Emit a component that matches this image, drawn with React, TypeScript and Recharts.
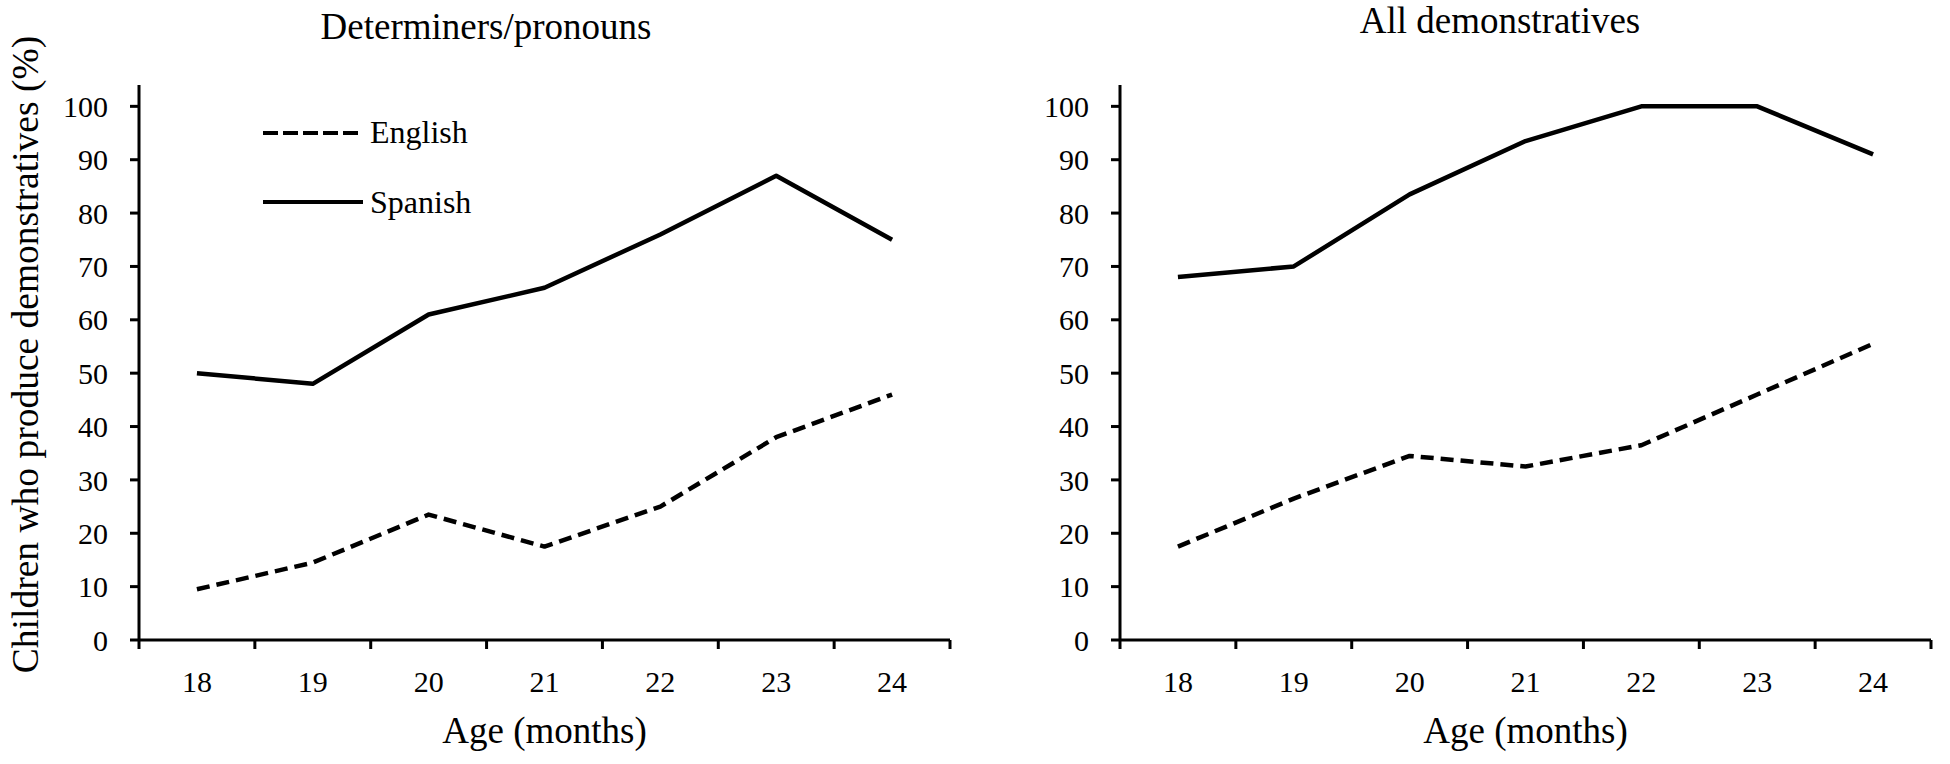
import { LineChart, Line, XAxis, YAxis, Legend } from "recharts";

const AGES = [18, 19, 20, 21, 22, 23, 24];
const EDGE_TICKS = [17.5, 18, 18.5, 19, 19.5, 20, 20.5, 21, 21.5, 22, 22.5, 23, 23.5, 24, 24.5];
const Y_TICKS = [0, 10, 20, 30, 40, 50, 60, 70, 80, 90, 100];

// Determiners/pronouns
const DET_ENGLISH = [9.5, 14.5, 23.5, 17.5, 25, 38, 46];
const DET_SPANISH = [50, 48, 61, 66, 76, 87, 75];

// All demonstratives
const ALL_ENGLISH = [17.5, 26.5, 34.5, 32.5, 36.5, 46, 55.5];
const ALL_SPANISH = [68, 70, 83.5, 93.5, 100, 100, 91];

const TITLE_LEFT = "Determiners/pronouns";
const TITLE_RIGHT = "All demonstratives";
const Y_TITLE = "Children who produce demonstratives (%)";
const X_TITLE = "Age (months)";

const FONT = '"Liberation Serif", "Times New Roman", serif';
const TICK_GAP = 52;

const toRows = (en: number[], es: number[]) =>
  AGES.map((age, i) => ({ age, English: en[i], Spanish: es[i] }));

const XTick = (props: any) => {
  const { x, y, payload } = props;
  if (Number.isInteger(payload.value)) {
    return (
      <text x={x} y={y} textAnchor="middle" fontSize={30} fill="#000" style={{ fontFamily: FONT }}>
        {payload.value}
      </text>
    );
  }
  return (
    <line
      x1={x}
      x2={x}
      y1={y - TICK_GAP}
      y2={y - TICK_GAP + 9}
      stroke="#000"
      strokeWidth={3}
    />
  );
};

const XTitle = (props: any) => {
  const vb = props.viewBox || { x: 139, y: 640, width: 811, height: 124 };
  return (
    <text
      x={vb.x + vb.width / 2}
      y={vb.y + 103}
      textAnchor="middle"
      fontSize={37}
      fill="#000"
      style={{ fontFamily: FONT }}
    >
      {X_TITLE}
    </text>
  );
};

const YTitle = (props: any) => {
  const vb = props.viewBox || { x: 0, y: 85, height: 555 };
  const cx = vb.x + 38;
  const cy = vb.y + vb.height / 2 - 8;
  return (
    <text
      x={cx}
      y={cy}
      transform={`rotate(-90 ${cx} ${cy})`}
      textAnchor="middle"
      fontSize={37.5}
      fill="#000"
      style={{ fontFamily: FONT }}
    >
      {Y_TITLE}
    </text>
  );
};

const LegendBox = () => (
  <svg width={260} height={130} style={{ overflow: "visible" }}>
    <line x1={8} x2={108} y1={33} y2={33} stroke="#000" strokeWidth={4} strokeDasharray="15 5" />
    <text x={115} y={43} fontSize={32} fill="#000" style={{ fontFamily: FONT }}>
      English
    </text>
    <line x1={8} x2={108} y1={102} y2={102} stroke="#000" strokeWidth={4} />
    <text x={115} y={113} fontSize={32} fill="#000" style={{ fontFamily: FONT }}>
      Spanish
    </text>
  </svg>
);

const axisStroke = { stroke: "#000", strokeWidth: 3 };

const Panel = ({
  rows,
  yWidth,
  right,
  showYTitle,
  showLegend,
}: {
  rows: any[];
  yWidth: number;
  right: number;
  showYTitle?: boolean;
  showLegend?: boolean;
}) => (
  <LineChart
    width={975}
    height={764}
    data={rows}
    margin={{ top: 85, right, bottom: 0, left: 0 }}
  >
    <XAxis
      dataKey="age"
      type="number"
      domain={[17.5, 24.5]}
      ticks={EDGE_TICKS}
      interval={0}
      height={124}
      tickSize={0}
      tickMargin={TICK_GAP}
      tickLine={false}
      axisLine={axisStroke}
      tick={<XTick />}
      label={{ value: X_TITLE, content: XTitle }}
    />
    <YAxis
      width={yWidth}
      domain={[0, 104]}
      ticks={Y_TICKS}
      interval={0}
      tickSize={9}
      tickMargin={22}
      tickLine={axisStroke}
      axisLine={axisStroke}
      tick={{ fill: "#000", fontSize: 30 }}
      label={showYTitle ? { value: Y_TITLE, content: YTitle } : undefined}
    />
    {showLegend && (
      <Legend
        layout="vertical"
        align="center"
        verticalAlign="middle"
        content={<LegendBox />}
        wrapperStyle={{ left: 255, top: 100, width: 260, height: 130 }}
      />
    )}
    <Line
      dataKey="English"
      type="linear"
      stroke="#000"
      strokeWidth={4.5}
      strokeDasharray="13 7"
      strokeLinejoin="round"
      dot={false}
      activeDot={false}
      isAnimationActive={false}
    />
    <Line
      dataKey="Spanish"
      type="linear"
      stroke="#000"
      strokeWidth={4.5}
      strokeLinejoin="round"
      dot={false}
      activeDot={false}
      isAnimationActive={false}
    />
  </LineChart>
);

export default function App() {
  return (
    <div
      style={{
        position: "absolute",
        left: 0,
        top: 0,
        width: 1950,
        height: 764,
        background: "#fff",
        fontFamily: FONT,
        color: "#000",
      }}
    >
      <div style={{ position: "absolute", left: 0, top: 0 }}>
        <Panel rows={toRows(DET_ENGLISH, DET_SPANISH)} yWidth={139} right={25} showYTitle showLegend />
      </div>
      <div style={{ position: "absolute", left: 975, top: 0 }}>
        <Panel rows={toRows(ALL_ENGLISH, ALL_SPANISH)} yWidth={145} right={19} />
      </div>
      <div
        style={{
          position: "absolute",
          left: 286,
          top: 8,
          width: 400,
          textAlign: "center",
          fontSize: 37,
          lineHeight: "37px",
        }}
      >
        {TITLE_LEFT}
      </div>
      <div
        style={{
          position: "absolute",
          left: 1300,
          top: 2,
          width: 400,
          textAlign: "center",
          fontSize: 37,
          lineHeight: "37px",
        }}
      >
        {TITLE_RIGHT}
      </div>
    </div>
  );
}
